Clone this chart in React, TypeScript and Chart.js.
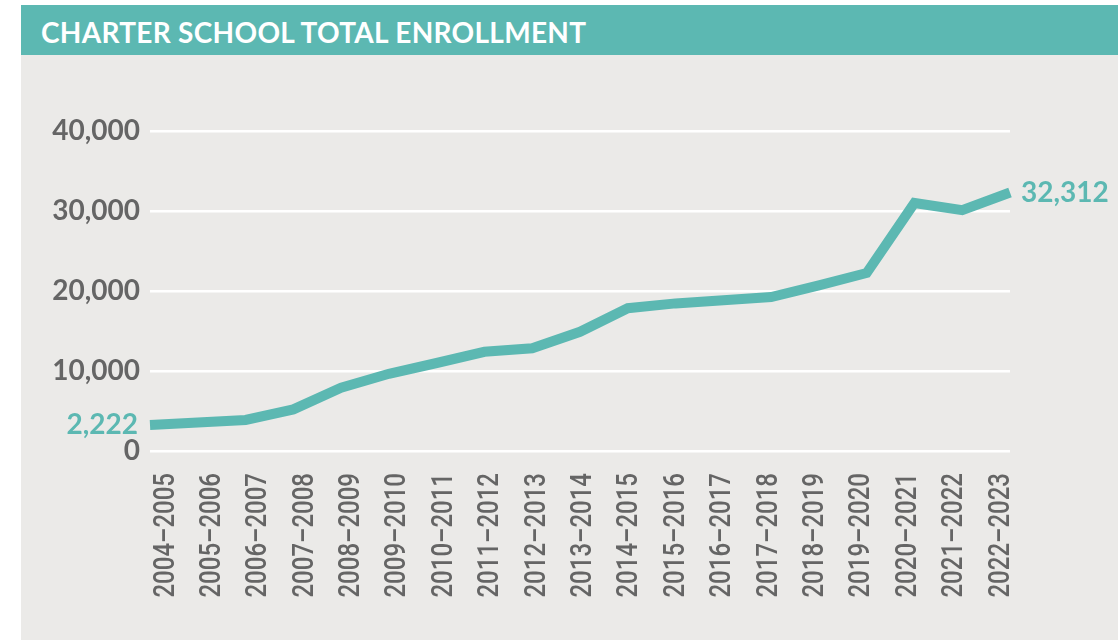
import React, { useEffect, useRef } from "react";
import { Chart, registerables } from "chart.js";

Chart.register(...registerables);

const categories: string[] = [
  "2004–2005", "2005–2006", "2006–2007", "2007–2008", "2008–2009",
  "2009–2010", "2010–2011", "2011–2012", "2012–2013", "2013–2014",
  "2014–2015", "2015–2016", "2016–2017", "2017–2018", "2018–2019",
  "2019–2020", "2020–2021", "2021–2022", "2022–2023",
];

const enrollment: number[] = [
  3250, 3560, 3875, 5200, 7900, 9650, 11000, 12400, 12850, 14900,
  17850, 18450, 18850, 19250, 20700, 22250, 31000, 30100, 32312,
];

const yTicks: number[] = [0, 10000, 20000, 30000, 40000];
const endLabels: string[] = ["2,222", "32,312"];

const TEAL = "#5cb8b2";
const PANEL = "#ebeae8";
const TICK_GRAY = "#656565";

const endLabelPlugin = {
  id: "endLabels",
  afterDatasetsDraw(chart: any) {
    const meta = chart.getDatasetMeta(0);
    const pts = meta.data;
    if (!pts || pts.length === 0) return;
    const ctx = chart.ctx;
    ctx.save();
    ctx.fillStyle = TEAL;
    ctx.font = "bold 28px Lato";
    ctx.textBaseline = "middle";
    const first = pts[0];
    ctx.textAlign = "right";
    ctx.fillText(endLabels[0], first.x - 12, first.y);
    const last = pts[pts.length - 1];
    ctx.textAlign = "left";
    ctx.fillText(endLabels[1], last.x + 11, last.y);
    ctx.restore();
  },
};

// Draws the category labels of the x2 axis, rotated and slightly condensed
const condensedXLabels = {
  id: "condensedXLabels",
  afterDraw(chart: any) {
    const scale = chart.scales.x2;
    if (!scale) return;
    const ctx = chart.ctx;
    const top = chart.chartArea.bottom + 22;
    ctx.save();
    ctx.fillStyle = TICK_GRAY;
    ctx.font = "500 30px Roboto";
    ctx.textAlign = "right";
    ctx.textBaseline = "middle";
    categories.forEach((label, i) => {
      const x = scale.getPixelForValue(i);
      ctx.save();
      ctx.translate(x, top);
      ctx.rotate(-Math.PI / 2);
      ctx.scale(0.8, 1);
      ctx.fillText(label, 0, 0);
      ctx.restore();
    });
    ctx.restore();
  },
};

export default function App() {
  const canvasRef = useRef<HTMLCanvasElement | null>(null);

  useEffect(() => {
    if (!canvasRef.current) return;
    const chart = new Chart(canvasRef.current, {
      type: "line",
      data: {
        labels: categories,
        datasets: [
          {
            data: enrollment,
            borderColor: TEAL,
            backgroundColor: TEAL,
            borderWidth: 10,
            pointRadius: 0,
            tension: 0,
            borderCapStyle: "butt",
            borderJoinStyle: "miter",
            clip: false as any,
          },
        ],
      },
      options: {
        animation: false,
        responsive: false,
        devicePixelRatio: 1,
        layout: { padding: { left: 0, right: 108, top: 76, bottom: 0 } },
        plugins: {
          legend: { display: false },
          tooltip: { enabled: false },
        },
        scales: {
          x: {
            type: "category",
            display: false,
            offset: false,
          },
          x2: {
            type: "linear",
            position: "bottom",
            min: -0.345,
            max: 18.194,
            grid: { display: false, drawTicks: false },
            border: { display: false },
            afterBuildTicks(scale: any) {
              scale.ticks = categories.map((_, i) => ({ value: i }));
            },
            afterFit(scale: any) {
              scale.height = 189;
            },
            ticks: { display: false },
          },
          y: {
            type: "linear",
            min: 0,
            max: 40000,
            afterBuildTicks(scale: any) {
              scale.ticks = yTicks.map((v) => ({ value: v }));
            },
            afterFit(scale: any) {
              scale.width = 129;
            },
            grid: { color: "#ffffff", lineWidth: 2.5, drawTicks: false },
            border: { display: false },
            ticks: {
              padding: 10,
              color: TICK_GRAY,
              font: { family: "Lato", size: 28, weight: "bold" },
              callback: (v: any) => Number(v).toLocaleString("en-US"),
            },
          },
        },
      } as any,
      plugins: [endLabelPlugin, condensedXLabels],
    });
    return () => chart.destroy();
  }, []);

  return (
    <div
      style={{
        position: "absolute",
        left: 0,
        top: 0,
        width: 1118,
        height: 641,
        background: "#ffffff",
        overflow: "hidden",
      }}
    >
      <div
        style={{
          position: "absolute",
          left: 21,
          top: 5,
          width: 1097,
          height: 50,
          background: TEAL,
          display: "flex",
          alignItems: "center",
          paddingLeft: 20,
          paddingTop: 3,
          boxSizing: "border-box",
          color: "#ffffff",
          fontFamily: "Lato, sans-serif",
          fontWeight: 700,
          fontSize: 28,
          letterSpacing: 0.3,
        }}
      >
        CHARTER SCHOOL TOTAL ENROLLMENT
      </div>
      <div
        style={{
          position: "absolute",
          left: 21,
          top: 55,
          width: 1097,
          height: 585,
          background: PANEL,
        }}
      >
        <canvas ref={canvasRef} width={1097} height={585} style={{ display: "block" }} />
      </div>
    </div>
  );
}
